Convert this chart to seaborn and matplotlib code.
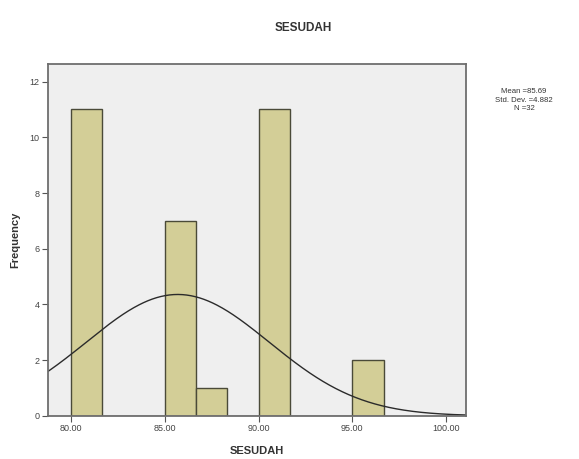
import numpy as np
import matplotlib
matplotlib.use("Agg")
import matplotlib.pyplot as plt
import seaborn as sns

# Data
scores = [80.0, 85.0, 87.0, 90.0, 95.0]
counts = [11, 7, 1, 11, 2]
x_ticks = [80.0, 85.0, 90.0, 95.0, 100.0]
y_ticks = [0, 2, 4, 6, 8, 10, 12]

values = np.repeat(scores, counts)
mean = values.mean()
sd = values.std(ddof=1)
n = len(values)
bw = 5.0 / 3.0
edges = 80.0 + bw * np.arange(0, 11)

sns.set_theme(style="white")
plt.rcParams['font.family'] = ['Liberation Sans', 'DejaVu Sans']

fig = plt.figure(figsize=(5.79, 4.59), dpi=100)
ax = fig.add_axes([0.083, 0.094, 0.722, 0.767])
ax.set_facecolor("#EFEFEF")

sns.histplot(x=values, bins=edges, ax=ax, color="#D3CE97", alpha=1.0,
             edgecolor="#4a4a38", linewidth=1.0)

xs = np.linspace(78.5, 101.5, 400)
pdf = n * bw * np.exp(-0.5 * ((xs - mean) / sd) ** 2) / (sd * np.sqrt(2 * np.pi))
ax.plot(xs, pdf, color="#2b2b2b", linewidth=1.0)

ax.set_xlim(78.77, 101.07)
ax.set_ylim(0, 12.64)
ax.set_xticks(x_ticks)
ax.set_xticklabels([f"{v:.2f}" for v in x_ticks])
ax.set_yticks(y_ticks)
ax.set_yticklabels([str(v) for v in y_ticks])
ax.tick_params(axis="both", which="both", direction="out", length=4, width=0.8,
               colors="#555555", labelsize=6.5, labelcolor="#444444", pad=2)
ax.tick_params(bottom=True, left=True)
for s in ax.spines.values():
    s.set_color("#6e6e6e")
    s.set_linewidth(1.3)

ax.set_xlabel("SESUDAH", fontsize=8, fontweight="bold", color="#333333", labelpad=9)
ax.set_ylabel("Frequency", fontsize=8, fontweight="bold", color="#333333", labelpad=7)
fig.text(0.523, 0.94, "SESUDAH", ha="center", va="center", fontsize=8.5,
         fontweight="bold", color="#333333")
fig.text(0.905, 0.782, f"Mean ={mean:.2f}\nStd. Dev. ={sd:.3f}\nN ={n}",
         ha="center", va="center", fontsize=5.6, color="#333333", linespacing=1.25)

fig.savefig("out.png", dpi=100)
